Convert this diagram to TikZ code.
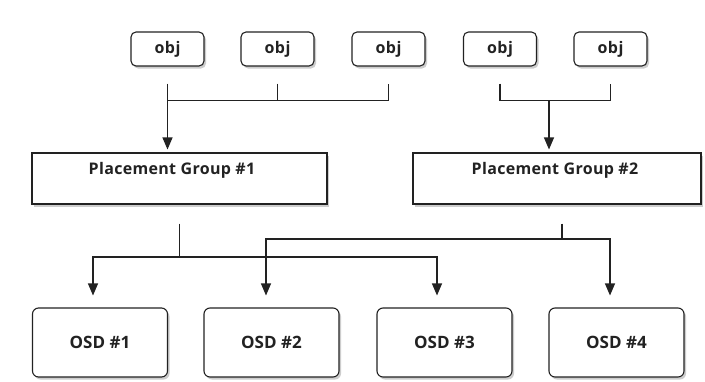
\documentclass[tikz,border=0pt]{standalone}
\usepackage{fontspec}
\setmainfont{Open Sans}
\newfontfamily\objfont{Open Sans}[LetterSpace=3]
\newfontfamily\pgfont{Open Sans}[LetterSpace=2]
\usetikzlibrary{arrows.meta,shadows}
\definecolor{ink}{HTML}{222222}
\tikzset{
  boxbase/.style={draw=ink, line width=1.1pt, fill=white,
    drop shadow={shadow xshift=2pt, shadow yshift=-2.5pt, opacity=0.28, fill=black!70}},
  objbox/.style={boxbase, rounded corners=5pt, minimum width=73pt, minimum height=34pt,
    inner sep=0pt, font=\objfont\bfseries\fontsize{16}{18}\selectfont, text=ink},
  pgbox/.style={boxbase, minimum height=51pt, inner sep=0pt},
  pgtext/.style={font=\pgfont\bfseries\fontsize{16}{18}\selectfont, text=ink, inner sep=0pt},
  osdbox/.style={boxbase, rounded corners=6pt, minimum width=135pt, minimum height=69pt,
    inner sep=0pt, font=\bfseries\fontsize{17}{19}\selectfont, text=ink},
  wire/.style={draw=ink, line width=1.1pt},
  arrowed/.style={wire, -{Triangle[length=12pt,width=10pt]}},
}
\begin{document}
\begin{tikzpicture}[x=1pt,y=-1pt]
  \fill[white] (0,0) rectangle (705,381);
  \useasboundingbox (0,0) rectangle (705,381);

  % objects
  \node[objbox] (obj1) at (167.5,49) {obj};
  \node[objbox] (obj2) at (277.5,49) {obj};
  \node[objbox] (obj3) at (388.5,49) {obj};
  \node[objbox] (obj4) at (500,49) {obj};
  \node[objbox] (obj5) at (610.5,49) {obj};

  % placement groups
  \node[pgbox, minimum width=295pt] (pg1) at (179.5,178.5) {};
  \node[pgtext] (pg1t) at (172,170) {Placement Group \#1};
  \node[pgbox, minimum width=288pt] (pg2) at (557,178.5) {};
  \node[pgtext] (pg2t) at (555,170) {Placement Group \#2};

  % OSDs
  \node[osdbox] (osd1) at (100,342.5) {OSD \#1};
  \node[osdbox] (osd2) at (271.5,342.5) {OSD \#2};
  \node[osdbox] (osd3) at (444.5,342.5) {OSD \#3};
  \node[osdbox] (osd4) at (616.5,342.5) {OSD \#4};

  % objects -> placement group 1
  \draw[wire] ([yshift=-17pt]obj1.south) |- ([yshift=-34pt]obj3.south) -- ([yshift=-17pt]obj3.south);
  \draw[wire] ([yshift=-17pt]obj2.south) -- ([yshift=-34pt]obj2.south);
  \draw[arrowed, shorten >=3pt] ([yshift=-34pt]obj1.south) -- (obj1.south |- pg1.north);

  % objects -> placement group 2
  \draw[wire] ([yshift=-17pt]obj4.south) |- ([yshift=-34pt]obj5.south) -- ([yshift=-17pt]obj5.south);
  \coordinate (b2) at (549,100);
  \draw[arrowed, shorten >=3pt] (b2) -- (b2 |- pg2.north);

  % placement group 1 -> OSD 1, OSD 3
  \coordinate (h1) at (179.5,257);
  \draw[wire] ([yshift=-19pt]pg1.south) -- (h1);
  \draw[arrowed, shorten >=12pt] (h1) -| ([xshift=-7pt]osd1.north);
  \draw[arrowed, shorten >=12pt] (h1) -| ([xshift=-7.5pt]osd3.north);

  % placement group 2 -> OSD 2, OSD 4
  \coordinate (h2) at (562,239);
  \draw[wire] (pg2.south -| h2) ++(0,19) -- (h2);
  \draw[arrowed, shorten >=12pt] (h2) -| ([xshift=-5.5pt]osd2.north);
  \draw[arrowed, shorten >=12pt] (h2) -| ([xshift=-6.5pt]osd4.north);
\end{tikzpicture}
\end{document}
